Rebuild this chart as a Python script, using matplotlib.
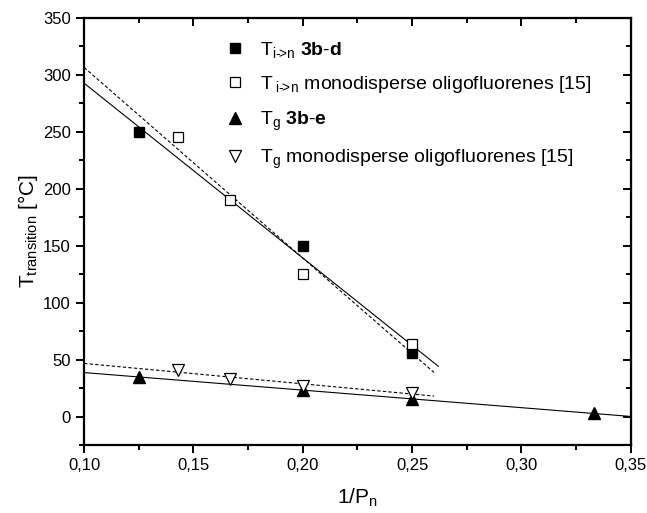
import numpy as np
import matplotlib
matplotlib.use("Agg")
import matplotlib.pyplot as plt
from matplotlib.ticker import MultipleLocator, FuncFormatter

plt.rcParams['font.family'] = ['Liberation Sans', 'DejaVu Sans']
plt.rcParams['mathtext.fontset'] = 'custom'
plt.rcParams['mathtext.rm'] = 'Liberation Sans'
plt.rcParams['mathtext.bf'] = 'Liberation Sans:bold'
plt.rcParams['mathtext.it'] = 'Liberation Sans:italic'

# T i->n, 3b-d (filled squares)
x_ti = [0.125, 0.2, 0.25]
y_ti = [250, 150, 56]
# T i->n, monodisperse oligofluorenes (open squares)
x_ti_mono = [0.1429, 0.1667, 0.2, 0.25]
y_ti_mono = [245, 190, 125, 64]
# Tg, 3b-e (filled triangles)
x_tg = [0.125, 0.2, 0.25, 0.333]
y_tg = [35, 23, 15, 3]
# Tg, monodisperse oligofluorenes (open down triangles)
x_tg_mono = [0.1429, 0.1667, 0.2, 0.25]
y_tg_mono = [41, 33, 27, 21]

# x range of each linear fit
fit_ti = [0.10, 0.262]
fit_ti_mono = [0.10, 0.26]
fit_tg = [0.10, 0.35]
fit_tg_mono = [0.10, 0.26]

fig = plt.figure(figsize=(6.47, 5.13), dpi=100)
ax = fig.add_axes([0.130, 0.1326, 0.845, 0.8325])

def fitline(xs, ys, rng, ls):
    k, b = np.polyfit(xs, ys, 1)
    xx = np.array(rng)
    ax.plot(xx, k*xx + b, color='black', lw=0.8, ls=ls, zorder=1)

fitline(x_ti, y_ti, fit_ti, '-')
fitline(x_ti_mono, y_ti_mono, fit_ti_mono, (0, (3, 2)))
fitline(x_tg, y_tg, fit_tg, '-')
fitline(x_tg_mono, y_tg_mono, fit_tg_mono, (0, (3, 2)))

ax.plot(x_ti, y_ti, 's', ms=7, mfc='black', mec='black', ls='none',
        label=r'T$_{\mathrm{i\text{-}\!\!>\!n}}$ $\mathbf{3b\text{-}d}$')
ax.plot(x_ti_mono, y_ti_mono, 's', ms=7, mfc='white', mec='black', mew=0.9, ls='none',
        label=r'T$_{\mathrm{\ i\text{-}\!\!>\!n}}$ monodisperse oligofluorenes [15]')
ax.plot(x_tg, y_tg, '^', ms=8, mfc='black', mec='black', ls='none',
        label=r'T$_{\mathrm{g}}$ $\mathbf{3b\text{-}e}$')
ax.plot(x_tg_mono, y_tg_mono, 'v', ms=8, mfc='white', mec='black', mew=0.9, ls='none',
        label=r'T$_{\mathrm{g}}$ monodisperse oligofluorenes [15]')

ax.set_xlim(0.10, 0.35)
ax.set_ylim(-25, 350)
ax.xaxis.set_major_locator(MultipleLocator(0.05))
ax.xaxis.set_minor_locator(MultipleLocator(0.025))
ax.yaxis.set_major_locator(MultipleLocator(50))
ax.yaxis.set_minor_locator(MultipleLocator(25))
ax.xaxis.set_major_formatter(FuncFormatter(lambda v, p: ('%.2f' % v).replace('.', ',')))
ax.yaxis.set_major_formatter(FuncFormatter(lambda v, p: '%d' % v))

for s in ax.spines.values():
    s.set_linewidth(1.6)
ax.tick_params(axis='both', which='both', direction='out', width=1.4, labelsize=12)
ax.tick_params(which='major', length=6)
ax.tick_params(which='minor', length=3.5)

# inward ticks on top and right
axt = ax.secondary_xaxis('top')
axt.xaxis.set_major_locator(MultipleLocator(0.05))
axt.xaxis.set_minor_locator(MultipleLocator(0.025))
axt.tick_params(which='both', direction='in', width=1.4, labeltop=False)
axt.tick_params(which='major', length=6)
axt.tick_params(which='minor', length=3.5)
axr = ax.secondary_yaxis('right')
axr.yaxis.set_major_locator(MultipleLocator(50))
axr.yaxis.set_minor_locator(MultipleLocator(25))
axr.tick_params(which='both', direction='in', width=1.4, labelright=False)
axr.tick_params(which='major', length=6)
axr.tick_params(which='minor', length=3.5)

ax.set_xlabel(r'1/P$_{\mathrm{n}}$', fontsize=15, labelpad=10)
ax.set_ylabel(r'T$_{\mathrm{transition}}$ [°C]', fontsize=15, labelpad=2)

ax.legend(loc='upper left', bbox_to_anchor=(0.226, 0.99), frameon=False,
          fontsize=14, handletextpad=0.8, labelspacing=0.75, handlelength=1.0,
          markerscale=1.0)

fig.savefig('out.png', dpi=100)
